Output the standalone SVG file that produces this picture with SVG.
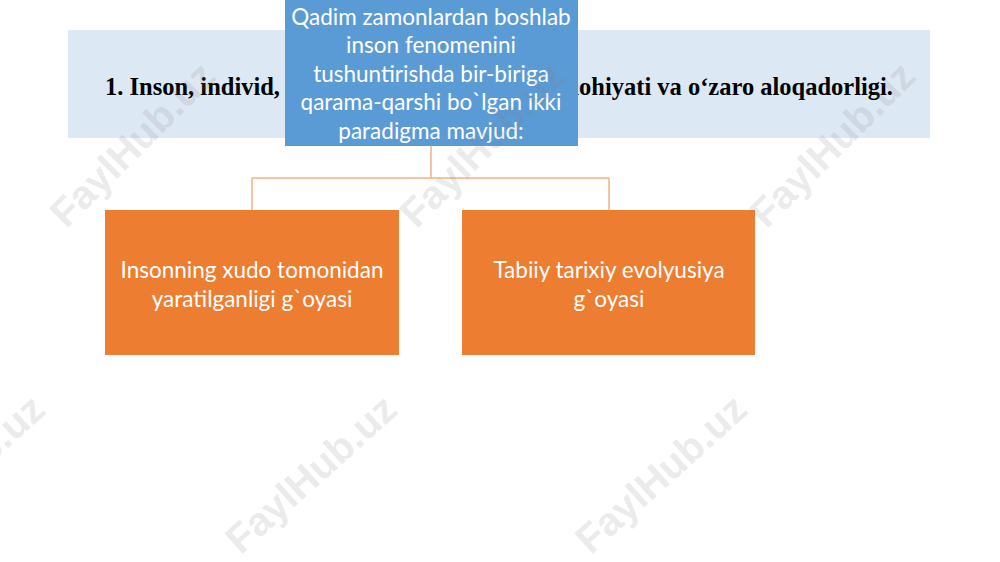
<svg xmlns="http://www.w3.org/2000/svg" width="1000" height="562" viewBox="0 0 1000 562">
<style>
.title{font-family:"Liberation Serif","Times New Roman",serif;font-weight:bold;font-size:24.5px;fill:#000}
.wt{font-family:Lato,"Liberation Sans",sans-serif;font-size:22.5px;fill:#fff;text-anchor:middle}
.conn{fill:none;stroke:#f4b183;stroke-width:1.5}
.wm{font-family:"Liberation Sans",Arial,sans-serif;font-weight:bold;font-size:40px;fill:#808080;fill-opacity:0.18;text-anchor:middle}
</style>
<rect width="1000" height="562" fill="#fff"/>
<g id="title">
<rect x="68" y="30" width="862" height="108" fill="#dde8f5"/>
<text class="title" x="105" y="95">1. Inson, individ,</text>
<text class="title" x="893" y="95" text-anchor="end">mohiyati va o‘zaro aloqadorligi.</text>
</g>
<g id="connectors">
<path class="conn" d="M431 146V178M252 178H609M252 178V210M609 178V210"/>
</g>
<g id="root">
<rect x="285" y="0" width="293" height="146" fill="#5b9bd5"/>
<text class="wt" x="431" y="25">Qadim zamonlardan boshlab</text>
<text class="wt" x="431" y="53">inson fenomenini</text>
<text class="wt" x="431" y="82">tushuntirishda bir-biriga</text>
<text class="wt" x="431" y="110">qarama-qarshi bo`lgan ikki</text>
<text class="wt" x="431" y="139">paradigma mavjud:</text>
</g>
<g id="left">
<rect x="105" y="210" width="294" height="145" fill="#ed7d31"/>
<text class="wt" x="252" y="278">Insonning xudo tomonidan</text>
<text class="wt" x="252" y="307">yaratilganligi g`oyasi</text>
</g>
<g id="right">
<rect x="462" y="210" width="293" height="145" fill="#ed7d31"/>
<text class="wt" x="609" y="278">Tabiiy tarixiy evolyusiya</text>
<text class="wt" x="609" y="307">g`oyasi</text>
</g>
<g id="watermarks">
<text class="wm" transform="translate(142,154) rotate(-45)">FaylHub.uz</text>
<text class="wm" transform="translate(492,154) rotate(-45)">FaylHub.uz</text>
<text class="wm" transform="translate(842,154) rotate(-45)">FaylHub.uz</text>
<text class="wm" transform="translate(-32,484) rotate(-42)">FaylHub.uz</text>
<text class="wm" transform="translate(320,484) rotate(-42)">FaylHub.uz</text>
<text class="wm" transform="translate(670,484) rotate(-42)">FaylHub.uz</text>
</g>
</svg>
